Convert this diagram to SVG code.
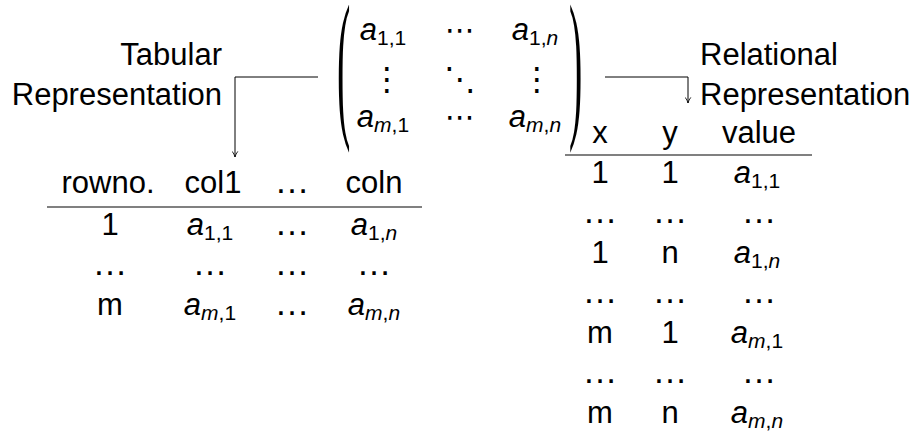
<svg xmlns="http://www.w3.org/2000/svg" width="917" height="432" viewBox="0 0 917 432">
<defs>
<marker id="arr" viewBox="0 0 10 10" refX="9" refY="5" markerWidth="7" markerHeight="7" markerUnits="userSpaceOnUse" orient="auto">
<path d="M1,1 Q5,4 9,5 Q5,6 1,9" fill="none" stroke="#000" stroke-width="1.2"/>
</marker>
<style>
text{font-family:"Liberation Sans",Arial,sans-serif;font-size:31px;fill:#000}
.c{text-anchor:middle}
.i{font-style:italic}
.sub{font-size:21px}
.si{font-size:21px;font-style:italic}
.ld{font-size:35px}
.math{font-family:"DejaVu Sans",sans-serif}
.paren{font-family:"Liberation Serif","Times New Roman",serif;font-size:40px}
.rule{stroke:#808080;stroke-width:2}
.conn{fill:none;stroke:#000;stroke-width:1}
</style>
</defs>

<g id="tabular-label">
<text x="222" y="65" text-anchor="end">Tabular</text>
<text x="222" y="105" text-anchor="end">Representation</text>
</g>

<g id="relational-label">
<text x="700" y="65">Relational</text>
<text x="700" y="105">Representation</text>
</g>

<g id="matrix">
<text x="337" y="118" class="paren" transform="translate(0,118) scale(1,4.07) translate(0,-118)">(</text>
<text x="569" y="118" class="paren" transform="translate(0,118) scale(1,4.07) translate(0,-118)">)</text>
<text x="383" y="40" class="c"><tspan class="i">a</tspan><tspan class="sub" dy="5">1,1</tspan></text>
<text x="460" y="40" class="c math" style="font-size:30px">⋯</text>
<text x="535" y="40" class="c"><tspan class="i">a</tspan><tspan class="sub" dy="5">1,</tspan><tspan class="si">n</tspan></text>
<text x="387" y="90" class="c math" style="font-size:32px">⋮</text>
<text x="460" y="90" class="c math" style="font-size:32px">⋱</text>
<text x="537" y="90" class="c math" style="font-size:32px">⋮</text>
<text x="383" y="127" class="c"><tspan class="i">a</tspan><tspan class="si" dy="5">m</tspan><tspan class="sub">,1</tspan></text>
<text x="460" y="127" class="c math" style="font-size:30px">⋯</text>
<text x="535" y="127" class="c"><tspan class="i">a</tspan><tspan class="si" dy="5">m</tspan><tspan class="sub">,</tspan><tspan class="si">n</tspan></text>
</g>

<g id="tabular-table">
<line class="rule" x1="47" y1="207" x2="422" y2="207"/>
<text x="108" y="193" class="c">rowno.</text>
<text x="213" y="193" class="c">col1</text>
<text x="292" y="193" class="c ld">…</text>
<text x="374" y="193" class="c">coln</text>
<text x="110" y="235" class="c">1</text>
<text x="210" y="235" class="c"><tspan class="i">a</tspan><tspan class="sub" dy="5">1,1</tspan></text>
<text x="292" y="235" class="c ld">…</text>
<text x="374" y="235" class="c"><tspan class="i">a</tspan><tspan class="sub" dy="5">1,</tspan><tspan class="si">n</tspan></text>
<text x="110" y="275" class="c ld">…</text>
<text x="210" y="275" class="c ld">…</text>
<text x="292" y="275" class="c ld">…</text>
<text x="374" y="275" class="c ld">…</text>
<text x="110" y="315" class="c">m</text>
<text x="210" y="315" class="c"><tspan class="i">a</tspan><tspan class="si" dy="5">m</tspan><tspan class="sub">,1</tspan></text>
<text x="292" y="315" class="c ld">…</text>
<text x="374" y="315" class="c"><tspan class="i">a</tspan><tspan class="si" dy="5">m</tspan><tspan class="sub">,</tspan><tspan class="si">n</tspan></text>
</g>

<g id="relational-table">
<line class="rule" x1="565" y1="155" x2="812" y2="155"/>
<text x="600" y="143" class="c">x</text>
<text x="670" y="143" class="c">y</text>
<text x="759" y="143" class="c">value</text>
<text x="600" y="183" class="c">1</text>
<text x="670" y="183" class="c">1</text>
<text x="757" y="183" class="c"><tspan class="i">a</tspan><tspan class="sub" dy="5">1,1</tspan></text>
<text x="600" y="223" class="c ld">…</text>
<text x="670" y="223" class="c ld">…</text>
<text x="759" y="223" class="c ld">…</text>
<text x="600" y="263" class="c">1</text>
<text x="670" y="263" class="c">n</text>
<text x="757" y="263" class="c"><tspan class="i">a</tspan><tspan class="sub" dy="5">1,</tspan><tspan class="si">n</tspan></text>
<text x="600" y="303" class="c ld">…</text>
<text x="670" y="303" class="c ld">…</text>
<text x="759" y="303" class="c ld">…</text>
<text x="600" y="343" class="c">m</text>
<text x="670" y="343" class="c">1</text>
<text x="757" y="343" class="c"><tspan class="i">a</tspan><tspan class="si" dy="5">m</tspan><tspan class="sub">,1</tspan></text>
<text x="600" y="383" class="c ld">…</text>
<text x="670" y="383" class="c ld">…</text>
<text x="759" y="383" class="c ld">…</text>
<text x="600" y="423" class="c">m</text>
<text x="670" y="423" class="c">n</text>
<text x="757" y="423" class="c"><tspan class="i">a</tspan><tspan class="si" dy="5">m</tspan><tspan class="sub">,</tspan><tspan class="si">n</tspan></text>
</g>

<g id="connectors">
<path class="conn" d="M318,77 H235 V157" marker-end="url(#arr)"/>
<path class="conn" d="M605,77 H688 V103" marker-end="url(#arr)"/>
</g>
</svg>
